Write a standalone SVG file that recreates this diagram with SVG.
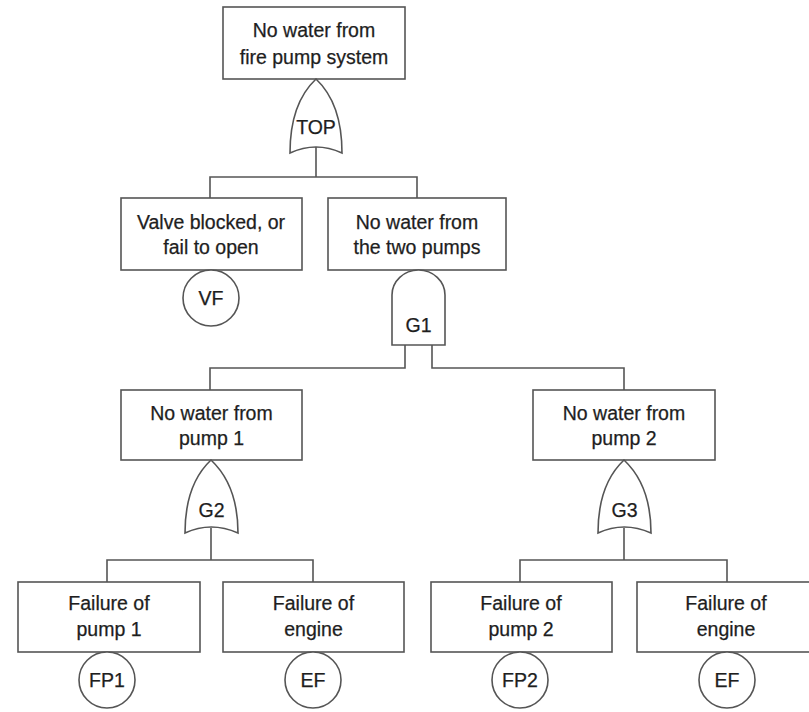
<svg xmlns="http://www.w3.org/2000/svg" width="809" height="712" viewBox="0 0 809 712">
<style>
.b{fill:#fff;stroke:#555;stroke-width:1.6}
.g{fill:#fff;stroke:#555;stroke-width:1.6}
.c{fill:none;stroke:#555;stroke-width:1.6}
text{font-family:"Liberation Sans",Arial,sans-serif;font-size:19.5px;fill:#1e1e1e;text-anchor:middle;stroke:#1e1e1e;stroke-width:0.25}
</style>
<rect width="809" height="712" fill="#fff"/>
<g id="connectors">
<path class="c" d="M316,147 V177 M210,198 V177 H417 V198"/>
<path class="c" d="M405,345 V368 H210 V390 M432,345 V368 H624 V390"/>
<path class="c" d="M211,528 V560 M107,582 V560 H313 V582"/>
<path class="c" d="M624,528 V560 M520,582 V560 H727 V582"/>
</g>
<g id="top">
<rect class="b" x="223" y="7" width="182" height="72"/>
<text x="314" y="37">No water from</text>
<text x="314" y="64">fire pump system</text>
</g>
<g id="gate-top">
<path class="g" d="M290,153 C290,120 299,95 316,79 C333,95 342,120 342,153 Q316,141 290,153 Z"/>
<text x="316" y="134">TOP</text>
</g>
<g id="valve">
<rect class="b" x="121" y="198" width="181" height="72"/>
<text x="211" y="229">Valve blocked, or</text>
<text x="211" y="254">fail to open</text>
</g>
<g id="vf">
<circle class="b" cx="211" cy="298" r="28"/>
<text x="211" y="305">VF</text>
</g>
<g id="twopumps">
<rect class="b" x="328" y="198" width="178" height="72"/>
<text x="417" y="229">No water from</text>
<text x="417" y="254">the two pumps</text>
</g>
<g id="g1">
<path class="g" d="M392,345 V295 A26.5,25 0 0 1 445,295 V345 Z"/>
<text x="418.5" y="332">G1</text>
</g>
<g id="pump1">
<rect class="b" x="121" y="390" width="181" height="70"/>
<text x="211.5" y="420">No water from</text>
<text x="211.5" y="445">pump 1</text>
</g>
<g id="g2">
<path class="g" d="M185,533 C185,500 194,476 211,460 C228,476 238,500 238,533 Q211,521 185,533 Z"/>
<text x="211.5" y="517">G2</text>
</g>
<g id="pump2">
<rect class="b" x="533" y="390" width="182" height="70"/>
<text x="624" y="420">No water from</text>
<text x="624" y="445">pump 2</text>
</g>
<g id="g3">
<path class="g" d="M598,533 C598,500 607,476 624,460 C641,476 651,500 651,533 Q624,521 598,533 Z"/>
<text x="624.5" y="517">G3</text>
</g>
<g id="fp1-box">
<rect class="b" x="18" y="582" width="182" height="70"/>
<text x="109" y="610">Failure of</text>
<text x="109" y="636">pump 1</text>
</g>
<g id="fp1">
<circle class="b" cx="107" cy="680" r="28"/>
<text x="107" y="687">FP1</text>
</g>
<g id="ef1-box">
<rect class="b" x="223" y="582" width="181" height="70"/>
<text x="313.5" y="610">Failure of</text>
<text x="313.5" y="636">engine</text>
</g>
<g id="ef1">
<circle class="b" cx="313" cy="680" r="28"/>
<text x="313" y="687">EF</text>
</g>
<g id="fp2-box">
<rect class="b" x="431" y="582" width="181" height="70"/>
<text x="521" y="610">Failure of</text>
<text x="521" y="636">pump 2</text>
</g>
<g id="fp2">
<circle class="b" cx="520" cy="680" r="28"/>
<text x="520" y="687">FP2</text>
</g>
<g id="ef2-box">
<rect class="b" x="637" y="582" width="181" height="70"/>
<text x="726" y="610">Failure of</text>
<text x="726" y="636">engine</text>
</g>
<g id="ef2">
<circle class="b" cx="727" cy="680" r="28"/>
<text x="727" y="687">EF</text>
</g>
</svg>
